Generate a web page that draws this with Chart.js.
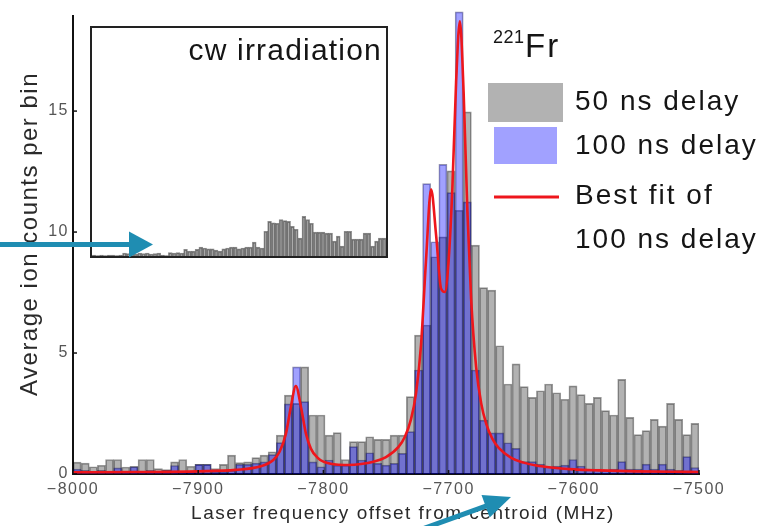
<!DOCTYPE html>
<html>
<head>
<meta charset="utf-8">
<script src="https://cdn.jsdelivr.net/npm/chart.js@4.4.0/dist/chart.umd.min.js"></script>
<style>
  html, body { margin: 0; padding: 0; background: #fff; }
  #wrap { position: relative; width: 772px; height: 526px; }
  #main { position: absolute; left: 0; top: 0; }
  #insetBox { position: absolute; left: 90px; top: 26px; width: 294px; height: 228px;
              border: 2px solid #222; background: #fff; }
  #inset { display: block; }
  #arrows { position: absolute; left: 0; top: 0; pointer-events: none; }
</style>
</head>
<body>
<div id="wrap">
  <canvas id="main" width="772" height="526"></canvas>
  <div id="insetBox"><canvas id="inset" width="294" height="228"></canvas></div>
  <canvas id="arrows" width="772" height="526"></canvas>
</div>
<script>
const FONT = '"Liberation Sans", Arial, Helvetica, sans-serif';

// histogram range (MHz), bins are equal width
const binStart = -8000;
const binEnd = -7500;

// average ion counts per bin, 50 ns delay (grey)
const gray50 = [
  0.49, 0.45, 0.30, 0.36, 0.60, 0.60, 0.29, 0.32, 0.60, 0.60,
  0.22, 0.18, 0.50, 0.60, 0.32, 0.40, 0.40, 0.22, 0.40, 0.78,
  0.47, 0.50, 0.68, 0.78, 0.92, 1.61, 3.26, 2.92, 4.43, 2.44,
  2.44, 1.61, 1.71, 0.60, 1.34, 1.34, 1.54, 1.43, 1.43, 1.61,
  1.61, 3.20, 5.74, 6.16, 8.98, 9.80, 12.53, 10.90, 14.97, 9.46,
  7.70, 7.60, 5.30, 3.72, 4.55, 3.61, 3.17, 3.44, 3.72, 3.36,
  3.09, 3.64, 3.28, 2.92, 3.17, 2.62, 2.44, 3.91, 2.34, 1.63,
  1.79, 2.26, 1.98, 2.92, 2.26, 1.63, 2.09
];

// average ion counts per bin, 100 ns delay (blue)
const blue100 = [
  0.20, 0.15, 0.10, 0.15, 0.10, 0.25, 0.10, 0.30, 0.10, 0.15,
  0.10, 0.15, 0.35, 0.10, 0.10, 0.40, 0.40, 0.10, 0.10, 0.15,
  0.40, 0.40, 0.45, 0.50, 0.80, 1.30, 2.90, 4.43, 2.99, 0.50,
  0.30, 0.58, 0.37, 0.37, 1.13, 0.58, 0.88, 0.44, 0.37, 0.44,
  0.85, 1.75, 4.30, 12.00, 9.60, 12.80, 11.63, 19.10, 11.25, 4.30,
  2.23, 1.70, 1.70, 1.29, 1.06, 0.51, 0.51, 0.41, 0.30, 0.33,
  0.37, 0.60, 0.33, 0.20, 0.20, 0.15, 0.20, 0.51, 0.20, 0.20,
  0.41, 0.20, 0.41, 0.20, 0.15, 0.72, 0.27
];

// best fit of the 100 ns data
const fitX = [
  -8000, -7950, -7900, -7870, -7850, -7840, -7835, -7830, -7826, -7822,
  -7818, -7814, -7810, -7805, -7800, -7790, -7780, -7770, -7760, -7750,
  -7740, -7735, -7730, -7726, -7722, -7718, -7714, -7710, -7706, -7703,
  -7700, -7697, -7694, -7691, -7688, -7685, -7682, -7678, -7674, -7670,
  -7665, -7660, -7650, -7640, -7630, -7620, -7600, -7580, -7550, -7520, -7500
];
const fitY = [
  0.07, 0.08, 0.11, 0.17, 0.32, 0.58, 0.92, 1.65, 2.77, 3.64,
  2.79, 1.68, 1.05, 0.69, 0.51, 0.39, 0.37, 0.41, 0.51, 0.70,
  1.12, 1.53, 2.27, 3.34, 5.35, 8.87, 11.77, 9.88, 7.66, 7.52,
  8.81, 11.80, 16.20, 18.71, 15.77, 10.87, 7.23, 4.42, 2.93, 2.08,
  1.45, 1.08, 0.67, 0.47, 0.35, 0.28, 0.19, 0.15, 0.11, 0.09, 0.085
];

// inset: cw irradiation counts (same binning)
const cwCounts = [
  0.09, 0.04, 0.09, 0.04, 0.09, 0.09, 0.04, 0.09,
  0.26, 0.22, 0.26, 0.17, 0.26, 0.22, 0.26, 0.17, 0.22, 0.26,
  0.09, 0.04,
  0.30, 0.26, 0.30, 0.26,
  0.58, 0.43, 0.43, 0.58,
  0.78, 0.70, 0.63, 0.63, 0.52, 0.43,
  0.63, 0.70, 0.78, 0.78, 0.63, 0.70, 0.78, 0.78,
  1.22, 0.78, 0.70,
  2.17, 3.04, 2.90, 2.87, 3.20, 3.10, 3.04, 2.60, 2.35, 1.57,
  3.48, 3.20, 2.87, 2.09, 2.09, 2.09, 2.00, 2.00, 1.30, 1.74,
  0.87, 2.17, 2.17, 1.48, 1.48, 1.48, 2.00, 2.00, 0.87, 1.30,
  1.57, 1.57
];

const xTicks = [-8000, -7900, -7800, -7700, -7600, -7500];
const yTicks = [0, 5, 10, 15];

const binWidth = (binEnd - binStart) / gray50.length;
const binCenters = gray50.map((_, i) => binStart + (i + 0.5) * binWidth);
const asBins = vals => vals.map((v, i) => ({ x: binCenters[i], y: v }));
const minus = v => String(v).replace('-', '\u2212');

const line = (ctx, x0, y0, x1, y1) => {
  ctx.beginPath(); ctx.moveTo(x0, y0); ctx.lineTo(x1, y1); ctx.stroke();
};

// letter spacing for the library's tick labels
const spacing = {
  id: 'spacing',
  beforeDraw(chart) { chart.ctx.letterSpacing = '1.5px'; },
  afterDraw(chart) { chart.ctx.letterSpacing = '0px'; }
};

const decor = {
  id: 'decor',
  afterDraw(chart) {
    const { ctx, chartArea: a, scales: { x, y } } = chart;
    const ds = chart.data.datasets;
    ctx.save();

    // inward tick marks
    ctx.strokeStyle = '#111';
    ctx.lineWidth = 1.5;
    xTicks.forEach(v => { const p = x.getPixelForValue(v); line(ctx, p, a.bottom, p, a.bottom - 4); });
    yTicks.forEach(v => { const p = y.getPixelForValue(v); line(ctx, a.left, p, a.left + 4, p); });

    // axis titles
    ctx.fillStyle = '#2a2a2a';
    ctx.textBaseline = 'alphabetic';
    ctx.letterSpacing = '1.5px';
    ctx.font = '19px ' + FONT;
    ctx.textAlign = 'center';
    ctx.fillText('Laser frequency offset from centroid (MHz)', (a.left + a.right) / 2 + 17, 519);
    ctx.save();
    ctx.translate(37, 234);
    ctx.rotate(-Math.PI / 2);
    ctx.font = '24px ' + FONT;
    ctx.fillText('Average ion counts per bin', 0, 0);
    ctx.restore();

    // legend
    ctx.letterSpacing = '0px';
    ctx.fillStyle = ds[2].backgroundColor;
    ctx.fillRect(488, 83, 75, 39);
    ctx.fillStyle = ds[1].backgroundColor;
    ctx.fillRect(494, 127, 63, 37);
    ctx.strokeStyle = ds[0].borderColor;
    ctx.lineWidth = 3;
    line(ctx, 494, 197, 559, 197);

    ctx.fillStyle = '#151515';
    ctx.textAlign = 'left';
    ctx.font = '18px ' + FONT;
    ctx.letterSpacing = '0.5px';
    ctx.fillText('221', 493, 43);
    ctx.font = '33px ' + FONT;
    ctx.letterSpacing = '2px';
    ctx.fillText('Fr', 525, 57);

    ctx.font = '28px ' + FONT;
    ctx.letterSpacing = '2px';
    ctx.fillText('50 ns delay', 575, 110);
    ctx.fillText('100 ns delay', 575, 154);
    ctx.fillText('Best fit of', 575, 204);
    ctx.fillText('100 ns delay', 575, 248);
    ctx.restore();
  }
};

new Chart(document.getElementById('main'), {
  type: 'bar',
  data: {
    datasets: [
      {
        type: 'line',
        label: 'Best fit of 100 ns delay',
        data: fitX.map((v, i) => ({ x: v, y: fitY[i] })),
        borderColor: 'rgb(238,22,28)',
        borderWidth: 2.6,
        pointRadius: 0,
        cubicInterpolationMode: 'monotone',
        fill: false,
        order: 0
      },
      {
        label: '100 ns delay',
        data: asBins(blue100),
        backgroundColor: 'rgba(0,0,255,0.37)',
        borderColor: 'rgba(0,0,60,0.42)',
        borderWidth: 1,
        grouped: false,
        barPercentage: 1,
        categoryPercentage: 1,
        clip: false,
        order: 1
      },
      {
        label: '50 ns delay',
        data: asBins(gray50),
        backgroundColor: 'rgba(0,0,0,0.3)',
        borderColor: 'rgba(0,0,0,0.4)',
        borderWidth: 1,
        grouped: false,
        barPercentage: 1,
        categoryPercentage: 1,
        order: 2
      }
    ]
  },
  options: {
    responsive: false,
    animation: false,
    layout: { padding: { left: 0, right: 73, top: 16, bottom: 0 } },
    plugins: { legend: { display: false }, tooltip: { enabled: false } },
    scales: {
      x: {
        type: 'linear',
        min: binStart,
        max: binEnd,
        offset: false,
        grid: { display: false, drawTicks: false, offset: false },
        border: { display: true, color: '#111', width: 2 },
        afterBuildTicks: s => { s.ticks = xTicks.map(v => ({ value: v })); },
        afterFit: s => { s.height = 52; s.paddingLeft = 0; s.paddingRight = 0; },
        ticks: {
          color: '#555',
          font: { family: FONT, size: 16 },
          padding: 6,
          maxRotation: 0,
          autoSkip: false,
          callback: v => minus(v)
        }
      },
      y: {
        type: 'linear',
        min: 0,
        max: 18.93,
        grid: { display: false, drawTicks: false },
        border: { display: true, color: '#111', width: 2 },
        afterBuildTicks: s => { s.ticks = yTicks.map(v => ({ value: v })); },
        afterFit: s => { s.width = 73; s.paddingTop = 0; s.paddingBottom = 0; },
        ticks: {
          color: '#555',
          font: { family: FONT, size: 16 },
          padding: 4,
          callback: v => String(v)
        }
      }
    }
  },
  plugins: [spacing, decor]
});

// inset chart
const cwLabel = {
  id: 'cwLabel',
  afterDraw(chart) {
    const ctx = chart.ctx;
    ctx.save();
    ctx.fillStyle = '#151515';
    ctx.font = '30px ' + FONT;
    ctx.letterSpacing = '1.2px';
    ctx.textAlign = 'right';
    ctx.textBaseline = 'alphabetic';
    ctx.fillText('cw irradiation', 290, 32);
    ctx.restore();
  }
};

new Chart(document.getElementById('inset'), {
  type: 'bar',
  data: {
    datasets: [{
      label: 'cw irradiation',
      data: asBins(cwCounts),
      backgroundColor: 'rgba(0,0,0,0.33)',
      borderColor: 'rgba(0,0,0,0.45)',
      borderWidth: 1,
      barPercentage: 1,
      categoryPercentage: 1
    }]
  },
  options: {
    responsive: false,
    animation: false,
    layout: { padding: 0 },
    plugins: { legend: { display: false }, tooltip: { enabled: false } },
    scales: {
      x: { type: 'linear', min: binStart, max: binEnd, offset: false, display: false },
      y: { min: 0, max: 20, display: false }
    }
  },
  plugins: [cwLabel]
});

// annotation arrows on top
(function () {
  const ctx = document.getElementById('arrows').getContext('2d');
  const arrow = (x0, y0, x1, y1, w, hl, hw) => {
    const ang = Math.atan2(y1 - y0, x1 - x0);
    const len = Math.hypot(x1 - x0, y1 - y0);
    ctx.save();
    ctx.translate(x0, y0);
    ctx.rotate(ang);
    ctx.fillStyle = '#1f8db2';
    ctx.fillRect(0, -w / 2, len - hl + 1, w);
    ctx.beginPath();
    ctx.moveTo(len, 0);
    ctx.lineTo(len - hl, -hw);
    ctx.lineTo(len - hl, hw);
    ctx.closePath();
    ctx.fill();
    ctx.restore();
  };
  arrow(-5, 244.5, 153, 244.5, 5, 24, 13);
  arrow(414, 532, 511, 497, 5, 27, 12);
})();
</script>
</body>
</html>
